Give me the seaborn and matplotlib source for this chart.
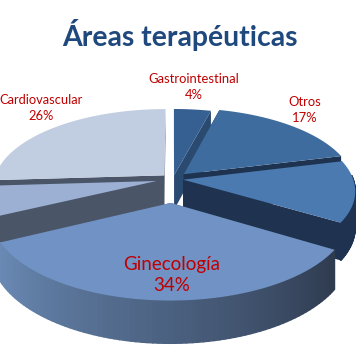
import numpy as np
import seaborn as sns
import matplotlib.pyplot as plt

# slices clockwise from 12 o'clock (the unnamed ones have no readable label)
names = ['Gastrointestinal', 'Otros', '', 'Ginecología', '', 'Cardiovascular']
values = [4, 17, 12.7, 34, 6.3, 26]
explode = [0.05, 0.09, 0.06, 0.30, 0.10, 0.07]
top_colors = ['#376092', '#3F6C9E', '#4A7AB0', '#7092C4', '#9BB0D2', '#C1CDE1']
side_colors = ['#2B4A70', '#1E3350', '#1F3350', '#4A5568', '#4A5568', '#4A5568']
arc_left = ['#2B4A70', '#2B4A70', '#1F3350', '#6A8AB5', '#5A7298', '#5A7298']
arc_right = ['#2B4A70', '#2B4A70', '#1F3350', '#2E3A4E', '#4A5568', '#4A5568']
draw_order = [5, 0, 1, 4, 2, 3]

label_pos = [(194, 87), (305, 110), None, (172, 275), None, (41, 108)]
label_size = [9.4, 9.4, 9, 13.5, 9, 9.3]

cx, cy, rx, ry, depth, persp = 173, 179, 170, 76.5, 35, 0.14
text_red = '#C00000'

sns.set_theme(style='white')
plt.rcParams['font.family'] = ['Lato', 'DejaVu Sans']


def project(x, y, z):
    s = 1 / (1 + persp * y)
    return cx + rx * x * s, cy - ry * y * s + depth * z * s


fig = plt.figure(figsize=(3.6, 3.6), dpi=100)
ax = fig.add_axes([0, 0, 1, 1])
ax.set_xlim(0, 360)
ax.set_ylim(360, 0)
ax.axis('off')

edges = np.cumsum([0] + values) / sum(values) * 2 * np.pi

for i in draw_order:
    t = np.linspace(edges[i], edges[i + 1], 80)
    mid = (edges[i] + edges[i + 1]) / 2
    ox, oy = explode[i] * np.sin(mid), explode[i] * np.cos(mid)
    gx, gy = ox + np.sin(t), oy + np.cos(t)

    # radial walls, start and end edge
    for k in [0, -1]:
        wx = [ox, gx[k], gx[k], ox]
        wy = [oy, gy[k], gy[k], oy]
        wz = [0, 0, 1, 1]
        px, py = project(np.array(wx), np.array(wy), np.array(wz))
        ax.fill(px, py, color=side_colors[i], lw=0)

    # outer wall in strips, only where it faces the viewer
    shades = sns.blend_palette([arc_left[i], arc_right[i]], len(t))
    for j in range(len(t) - 1, 0, -1):
        if np.cos(t[j]) > 0.05:
            continue
        xs = np.array([gx[j - 1], gx[j], gx[j], gx[j - 1]])
        ys = np.array([gy[j - 1], gy[j], gy[j], gy[j - 1]])
        zs = np.array([0, 0, 1, 1])
        px, py = project(xs, ys, zs)
        ax.fill(px, py, color=shades[len(t) - 1 - j], lw=1.0)

    # top face
    px, py = project(np.r_[ox, gx], np.r_[oy, gy], 0)
    ax.fill(px, py, color=top_colors[i], lw=0)

for name, val, pos, size in zip(names, values, label_pos, label_size):
    if pos is None:
        continue
    ax.text(pos[0], pos[1], f'{name}\n{val}%', color=text_red, fontsize=size,
            ha='center', va='center', linespacing=1.35)

ax.text(180, 35, 'Áreas terapéuticas', color='#1F497D', fontsize=20.4,
        fontweight='bold', ha='center', va='center')

sns.despine(fig=fig, left=True, bottom=True)
fig.savefig('out.png', dpi=100)
